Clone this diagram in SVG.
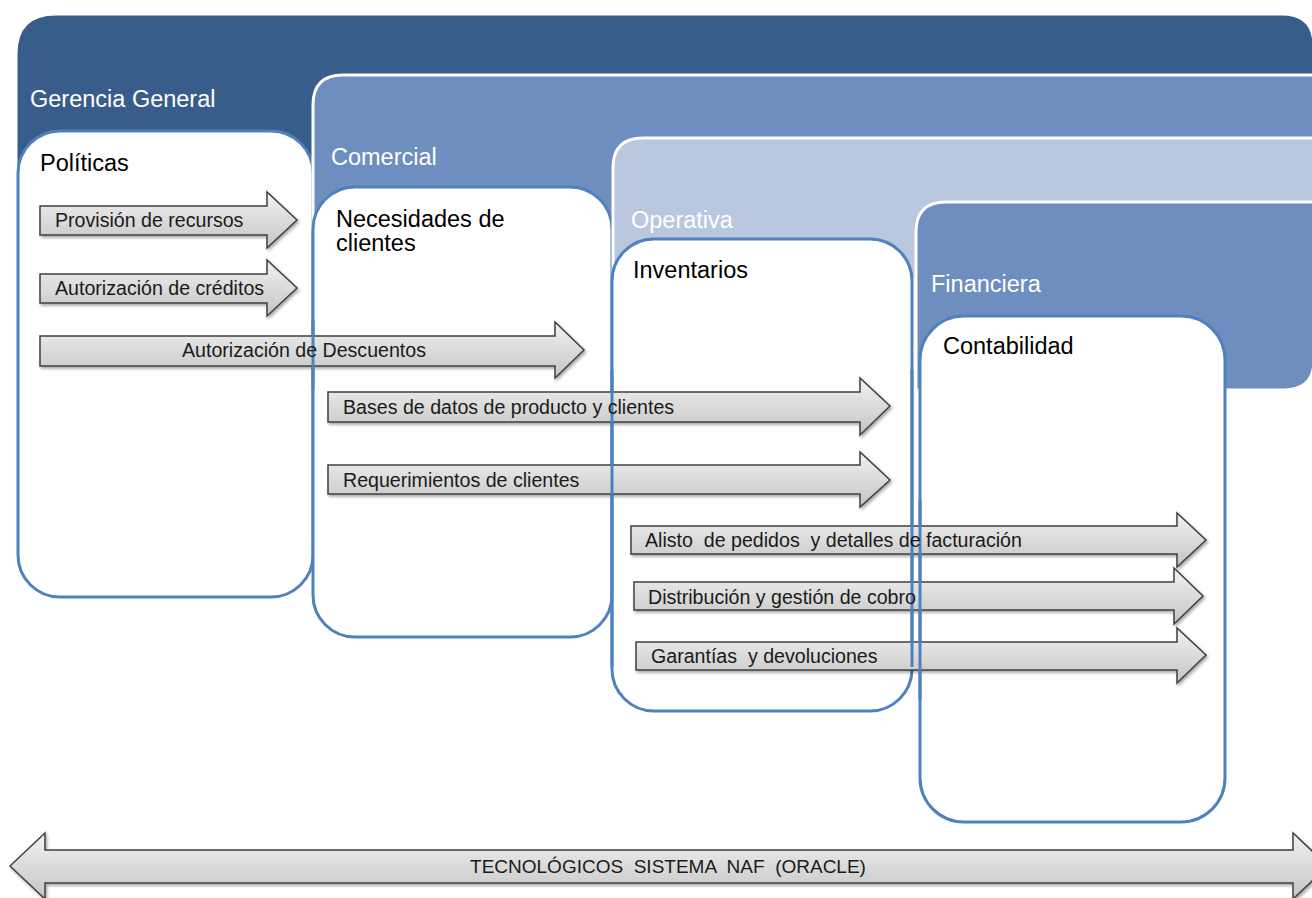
<svg xmlns="http://www.w3.org/2000/svg" width="1312" height="898" viewBox="0 0 1312 898">
<defs>
<linearGradient id="ag" x1="0" y1="0" x2="0" y2="1">
<stop offset="0" stop-color="#f2f2f2"/>
<stop offset="1" stop-color="#c4c4c4"/>
</linearGradient>
<filter id="sh" x="-5%" y="-30%" width="110%" height="160%">
<feDropShadow dx="1.5" dy="2" stdDeviation="1.5" flood-color="#000" flood-opacity="0.35"/>
</filter>
</defs>
<style>
.band{stroke:#fff;stroke-width:3}
.b1{fill:#385d8a}
.b2{fill:#6d8ebf}
.b3{fill:#b9c7df}
.box{fill:#fff;stroke:#4f81bd;stroke-width:3}
.edge{fill:none;stroke:#4f81bd;stroke-width:3}
.bl{font-family:"Liberation Sans",Arial,sans-serif;font-size:23.5px;fill:#fff}
.hd{font-family:"Liberation Sans",Arial,sans-serif;font-size:23.5px;fill:#000}
.arr{fill:url(#ag);stroke:#404040;stroke-width:1.5;filter:url(#sh)}
.at{font-family:"Liberation Sans",Arial,sans-serif;font-size:19.6px;fill:#1a1a1a;white-space:pre}
.bt{font-family:"Liberation Sans",Arial,sans-serif;font-size:19px;fill:#1a1a1a;white-space:pre}
</style>
<rect width="1312" height="898" fill="#fff"/>

<g id="gerencia">
<path class="band b1" d="M16,200 L16,54 Q16,14 56,14 L1282,14 Q1314,14 1314,46 L1314,200 Z"/>
<text class="bl" x="30" y="107">Gerencia General</text>
</g>
<g id="politicas">
<rect class="box" x="18" y="131" width="295" height="466" rx="42"/>
<text class="hd" x="40" y="171">Políticas</text>
</g>
<g id="comercial">
<path class="band b2" d="M313,230 L313,105 Q313,75 343,75 L1314,75 L1314,230 Z"/>
<text class="bl" x="331" y="165">Comercial</text>
</g>
<g id="necesidades">
<rect class="box" x="313" y="187" width="299" height="450" rx="42"/>
<text class="hd" x="336" y="227">Necesidades de</text>
<text class="hd" x="336" y="251">clientes</text>
</g>
<g id="operativa">
<path class="band b3" d="M613,280 L613,168 Q613,138 643,138 L1314,138 L1314,280 Z"/>
<text class="bl" x="631" y="228">Operativa</text>
</g>
<g id="inventarios">
<rect class="box" x="612" y="239" width="300" height="472" rx="42"/>
<text class="hd" x="633" y="278">Inventarios</text>
</g>
<g id="financiera">
<path class="band b2" d="M916,390 L916,232 Q916,202 946,202 L1314,202 L1314,360 Q1314,390 1284,390 Z"/>
<text class="bl" x="931" y="292">Financiera</text>
</g>
<g id="contabilidad">
<rect class="box" x="920" y="316" width="305" height="506" rx="44"/>
<text class="hd" x="943" y="354">Contabilidad</text>
</g>

<g id="connectors">
<path class="arr" d="M40,206 L267,206 L267,192 L297,220 L267,248 L267,235 L40,235 Z"/>
<path class="arr" d="M40,274 L267,274 L267,260 L297,288 L267,316 L267,303 L40,303 Z"/>
<path class="arr" d="M40,336 L555,336 L555,322 L584,350 L555,378 L555,366 L40,366 Z"/>
<path class="arr" d="M328,392 L860,392 L860,378 L890,406 L860,435 L860,422 L328,422 Z"/>
<path class="arr" d="M328,465 L860,465 L860,452 L890,480 L860,507 L860,494 L328,494 Z"/>
<path class="arr" d="M631,526 L1177,526 L1177,513 L1206,540 L1177,567 L1177,554 L631,554 Z"/>
<path class="arr" d="M634,582 L1174,582 L1174,568 L1203,596 L1174,624 L1174,610 L634,610 Z"/>
<path class="arr" d="M636,642 L1177,642 L1177,628 L1206,655 L1177,683 L1177,670 L636,670 Z"/>
<path class="arr" d="M10,866 L45,833 L45,850 L1293,850 L1293,833 L1328,866 L1293,899 L1293,883 L45,883 L45,899 Z"/>
</g>

<g id="box-edges">
<path class="edge" d="M313,320 L313,390"/>
<path class="edge" d="M612,370 L612,667"/>
<path class="edge" d="M912,370 L912,667"/>
<path class="edge" d="M920,500 L920,700"/>
</g>

<g id="connector-labels">
<text class="at" x="55" y="227">Provisión de recursos</text>
<text class="at" x="55" y="295">Autorización de créditos</text>
<text class="at" x="182" y="357">Autorización de Descuentos</text>
<text class="at" x="343" y="414">Bases de datos de producto y clientes</text>
<text class="at" x="343" y="487">Requerimientos de clientes</text>
<text class="at" x="645" y="547">Alisto  de pedidos  y detalles de facturación</text>
<text class="at" x="648" y="604">Distribución y gestión de cobro</text>
<text class="at" x="651" y="663">Garantías  y devoluciones</text>
<text class="bt" x="668" y="873" text-anchor="middle">TECNOLÓGICOS  SISTEMA  NAF  (ORACLE)</text>
</g>
</svg>
